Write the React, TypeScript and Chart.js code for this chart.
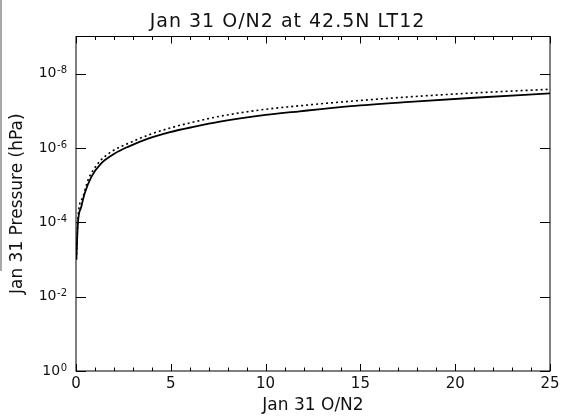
import React, { useEffect, useRef } from "react";
import { Chart, registerables } from "chart.js";

Chart.register(...registerables);

const TITLE = "Jan 31 O/N2 at 42.5N LT12";
const X_TITLE = "Jan 31 O/N2";
const Y_TITLE = "Jan 31 Pressure (hPa)";

// Solid curve
const SOLID_ON2 = [0.02, 0.1, 0.28, 0.46, 0.81, 1.33, 2.04, 2.74, 3.8, 4.96, 6.2, 7.59, 9.7, 11.8, 14.5, 17.6, 21, 25];
const SOLID_P = [1.0e-3, 1.07e-4, 3.8e-5, 1.66e-5, 6.0e-6, 2.6e-6, 1.41e-6, 9.3e-7, 5.6e-7, 3.75e-7, 2.7e-7, 1.95e-7, 1.35e-7, 1.03e-7, 7.5e-8, 5.75e-8, 4.45e-8, 3.4e-8];

// Dotted curve
const DOTTED_ON2 = [0.02, 0.1, 0.37, 0.63, 1.16, 1.86, 2.74, 3.8, 4.96, 6.2, 7.59, 9.7, 11.8, 14.5, 17.6, 21, 25];
const DOTTED_P = [1.0e-3, 7.9e-5, 2.04e-5, 7.4e-6, 2.6e-6, 1.26e-6, 7.6e-7, 4.5e-7, 2.9e-7, 2.0e-7, 1.4e-7, 9.5e-8, 7.3e-8, 5.5e-8, 4.2e-8, 3.3e-8, 2.63e-8];

const X_MIN = 0;
const X_MAX = 25;
const Y_MIN = 1e-9;
const Y_MAX = 1;
const Y_TICK_VALUES = [1, 1e-2, 1e-4, 1e-6, 1e-8];
const Y_TICK_BASE = "10";
const Y_TICK_EXPONENTS = ["0", "-2", "-4", "-6", "-8"];

const FONT = "'DejaVu Sans', sans-serif";
const TEXT_COLOR = "#111";

const framePlugin = {
  id: "idlFrame",
  afterDatasetsDraw(chart: any) {
    const { ctx, chartArea } = chart;
    const { left, right, top, bottom } = chartArea;
    const xs = chart.scales.x;
    const ys = chart.scales.y;
    ctx.save();
    ctx.strokeStyle = "#000";
    ctx.lineWidth = 1;
    ctx.strokeRect(left, top, right - left, bottom - top);
    ctx.beginPath();
    for (let v = Math.ceil(xs.min); v <= xs.max; v++) {
      const px = Math.round(xs.getPixelForValue(v)) + 0.5;
      const len = v % 5 === 0 ? 7 : 3.5;
      ctx.moveTo(px, bottom);
      ctx.lineTo(px, bottom - len);
      ctx.moveTo(px, top);
      ctx.lineTo(px, top + len);
    }
    ys.ticks.forEach((t: any) => {
      const py = Math.round(ys.getPixelForValue(t.value)) + 0.5;
      ctx.moveTo(left, py);
      ctx.lineTo(left + 10, py);
      ctx.moveTo(right, py);
      ctx.lineTo(right - 10, py);
    });
    ctx.stroke();

    // y tick labels: base with superscript exponent
    ctx.fillStyle = TEXT_COLOR;
    ys.ticks.forEach((t: any) => {
      const i = Y_TICK_VALUES.findIndex((v) => Math.abs(v - t.value) / v < 1e-6);
      if (i < 0) return;
      const py = ys.getPixelForValue(t.value);
      const exp = Y_TICK_EXPONENTS[i];
      ctx.font = "10px " + FONT;
      ctx.textAlign = "right";
      ctx.textBaseline = "alphabetic";
      const expW = ctx.measureText(exp).width;
      const expRight = left - 9;
      ctx.fillText(exp, expRight, py - 0.5);
      ctx.font = "14px " + FONT;
      ctx.textBaseline = "middle";
      ctx.fillText(Y_TICK_BASE, expRight - expW - 0.5, py);
    });

    // title
    ctx.font = "19px " + FONT;
    ctx.textAlign = "center";
    ctx.textBaseline = "middle";
    try {
      (ctx as any).letterSpacing = "1px";
    } catch (e) {}
    ctx.fillText(TITLE, chart.width / 2 + 4, 22);
    try {
      (ctx as any).letterSpacing = "0px";
    } catch (e) {}
    ctx.restore();
  },
};

export default function App() {
  const ref = useRef<HTMLCanvasElement | null>(null);
  useEffect(() => {
    if (!ref.current) return;
    const chart = new Chart(ref.current, {
      type: "line",
      data: {
        datasets: [
          {
            label: "solid",
            data: SOLID_ON2.map((x, i) => ({ x, y: SOLID_P[i] })),
            borderColor: "#000",
            borderWidth: 1.8,
            pointRadius: 0,
            cubicInterpolationMode: "monotone",
            fill: false,
          },
          {
            label: "dotted",
            data: DOTTED_ON2.map((x, i) => ({ x, y: DOTTED_P[i] })),
            borderColor: "#000",
            borderWidth: 1.6,
            borderDash: [2, 3],
            pointRadius: 0,
            cubicInterpolationMode: "monotone",
            fill: false,
          },
        ],
      },
      plugins: [framePlugin],
      options: {
        animation: false,
        responsive: false,
        maintainAspectRatio: false,
        layout: { padding: { top: 36.5, right: 17, left: 0, bottom: 0 } },
        plugins: {
          legend: { display: false },
          tooltip: { enabled: false },
          title: { display: false },
        },
        scales: {
          x: {
            type: "linear",
            min: X_MIN,
            max: X_MAX,
            grid: { display: false, drawTicks: false },
            border: { display: false },
            ticks: {
              stepSize: 5,
              padding: 4,
              color: TEXT_COLOR,
              font: { family: FONT, size: 15 },
              maxRotation: 0,
            },
            title: {
              display: true,
              text: X_TITLE,
              color: TEXT_COLOR,
              font: { family: FONT, size: 17 },
              padding: { top: 0, bottom: 3 },
            },
            afterFit(scale: any) {
              scale.height = 48;
            },
          },
          y: {
            type: "logarithmic",
            min: Y_MIN,
            max: Y_MAX,
            reverse: true,
            grid: { display: false, drawTicks: false },
            border: { display: false },
            afterBuildTicks(scale: any) {
              scale.ticks = Y_TICK_VALUES.map((v) => ({ value: v }));
            },
            ticks: {
              display: false,
            },
            title: {
              display: true,
              text: Y_TITLE,
              color: TEXT_COLOR,
              font: { family: FONT, size: 17 },
              padding: { top: 7, bottom: 0 },
            },
            afterFit(scale: any) {
              scale.width = 76;
            },
          },
        },
      },
    } as any);
    return () => chart.destroy();
  }, []);
  return (
    <div style={{ position: "absolute", left: 0, top: 0, width: 567, height: 419, background: "#fff" }}>
      <div style={{ position: "absolute", left: 0, top: 0, width: 2, height: 271, background: "#a8a8a8" }} />
      <canvas ref={ref} width={567} height={419} style={{ display: "block", width: 567, height: 419 }} />
    </div>
  );
}
